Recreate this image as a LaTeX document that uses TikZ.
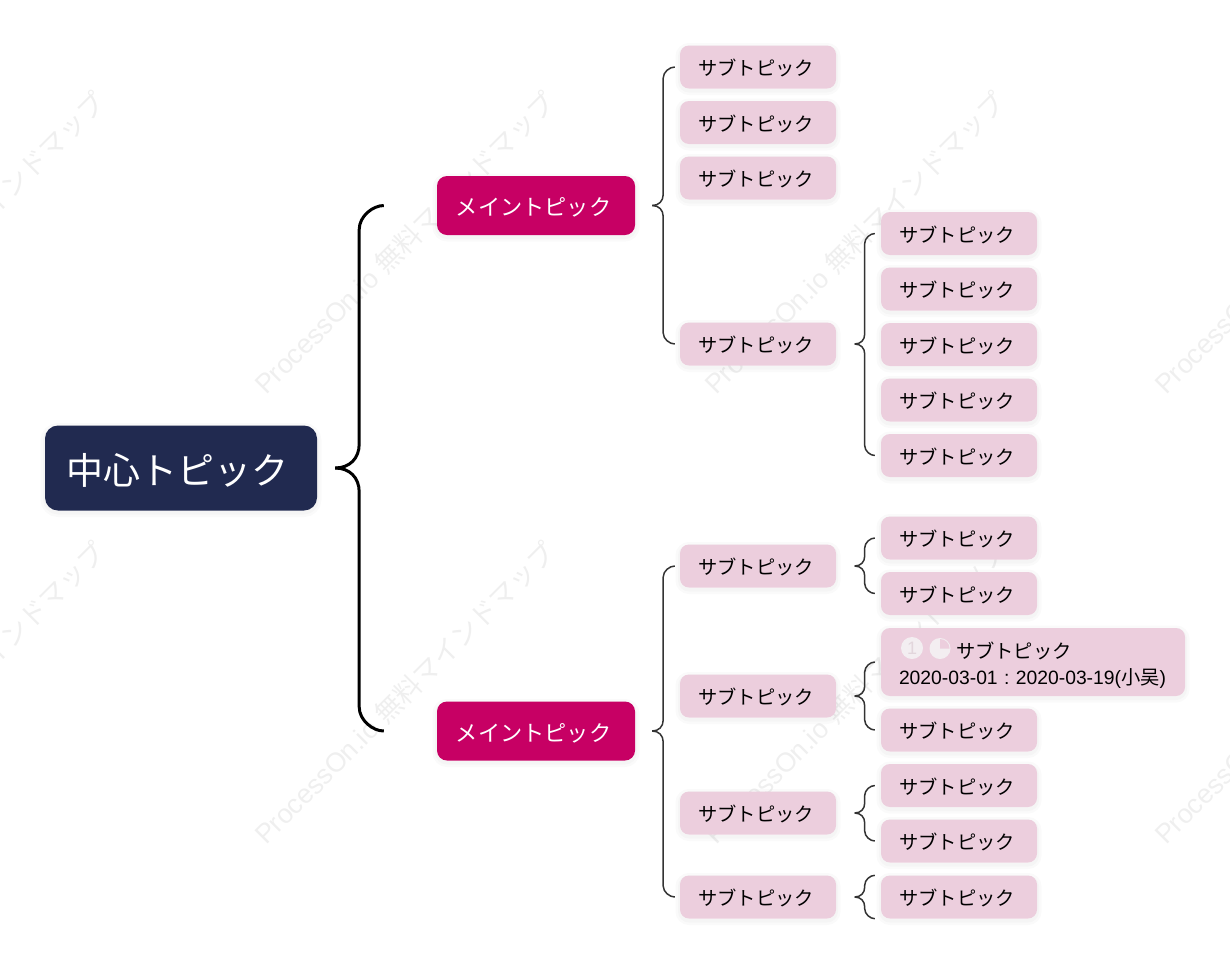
\documentclass[tikz,border=0pt]{standalone}
\usepackage{fontspec}
\setmainfont{Liberation Sans}
\newfontfamily\cjk{Noto Sans CJK JP}
\usetikzlibrary{calc}
\definecolor{centerblue}{HTML}{212A50}
\definecolor{mainpink}{HTML}{C70064}
\definecolor{subpink}{HTML}{ECCEDD}
\definecolor{iconwhite}{HTML}{F3EEF1}
\definecolor{icondigit}{HTML}{E2D6DC}
\definecolor{markgray}{HTML}{EFEFEF}
\definecolor{linkgray}{HTML}{333333}
\newcommand{\subtopic}{{\cjk サブトピック}}
% style, tip gap, bend, end gap, parent, target
\newcommand{\bracelink}[6]{%
    \draw[#1] let \p1=($(#5.east)+(#2,0)$), \p2=($(#6)-(#4,0)$),
        \n1={\x1+#3}, \n2={ifthenelse(\y2>\y1,1,-1)*#3}, \n3={\x2-(\x2-\n1)*.45} in
        (\p1) .. controls ({\x1+.6*#3},\y1) and (\n1,{\y1+.4*\n2}) .. (\n1,{\y1+\n2})
        -- (\n1,{\y2-\n2}) .. controls (\n1,{\y2-.45*\n2}) and (\n3,\y2) .. (\x2,\y2);}
\newcommand{\toplink}[2]{\bracelink{thicklink}{18}{24}{53}{#1}{#2}}
\newcommand{\midlink}[2]{\bracelink{thinlink}{17}{11}{5}{#1}{#2}}
\newcommand{\leaflink}[2]{\bracelink{thinlink}{18.5}{10}{6}{#1}{#2}}
\tikzset{
    softshadow/.style = {preaction={draw=black, draw opacity=.02, line width=9pt, transform canvas={yshift=-2pt}},
                         preaction={draw=black, draw opacity=.02, line width=4pt, transform canvas={yshift=-2pt}}},
    centerbox/.style  = {softshadow, fill=centerblue, text=white, rounded corners=13pt, minimum width=272pt,
                         minimum height=85pt, inner sep=0pt, text height=35pt, text depth=3pt,
                         font=\cjk\fontsize{37}{37}\selectfont},
    mainbox/.style    = {softshadow, fill=mainpink, text=white, rounded corners=10pt, minimum width=198pt,
                         minimum height=59pt, inner sep=0pt, text height=22pt, text depth=1.3pt,
                         font=\cjk\fontsize{22.2}{24}\selectfont},
    subbase/.style    = {softshadow, fill=subpink, text=black, rounded corners=9pt, minimum width=156pt,
                         minimum height=43pt, inner sep=0pt, font=\fontsize{19.3}{24}\selectfont},
    subbox/.style     = {subbase, text height=18pt, text depth=.6pt},
    thicklink/.style  = {black, line width=3pt},
    thinlink/.style   = {linkgray, line width=1.5pt},
    markstyle/.style  = {markgray, rotate=45, anchor=base west, inner sep=0pt,
                         font=\fontsize{27}{28}\selectfont},
}
\begin{document}
\begin{tikzpicture}[x=1pt, y=1pt]
\useasboundingbox (0,0) rectangle (1230,-978);
% watermark
\foreach \mx in {-197,253,703,1153}
    \foreach \my in {-396,-846}
        \node[markstyle] (mark\mx\my) at (\mx+13,\my) {ProcessOn.io {\cjk 無料マインドマップ}};
% topics
\node[centerbox] (center) at (181,-468) {中心トピック\kern7pt};
\node[mainbox] (main1) at (536,-205.5) {メイントピック\kern5pt};
\node[mainbox] (main2) at (536,-731) {メイントピック\kern5pt};
% first branch
\node[subbox] (a1) at (758,-67) {\subtopic\kern4pt};
\node[subbox] (a2) at (758,-122.5) {\subtopic\kern4pt};
\node[subbox] (a3) at (758,-178) {\subtopic\kern4pt};
\node[subbox] (a4) at (758,-344) {\subtopic\kern4pt};
\node[subbox] (a41) at (959,-233.5) {\subtopic\kern4pt};
\node[subbox] (a42) at (959,-289) {\subtopic\kern4pt};
\node[subbox] (a43) at (959,-344.5) {\subtopic\kern4pt};
\node[subbox] (a44) at (959,-400) {\subtopic\kern4pt};
\node[subbox] (a45) at (959,-455.5) {\subtopic\kern4pt};
% second branch
\node[subbox] (b1) at (758,-566) {\subtopic\kern4pt};
\node[subbox] (b2) at (758,-696) {\subtopic\kern4pt};
\node[subbox] (b3) at (758,-813) {\subtopic\kern4pt};
\node[subbox] (b4) at (758,-897) {\subtopic\kern4pt};
\node[subbox] (b11) at (959,-538) {\subtopic\kern4pt};
\node[subbox] (b12) at (959,-593.5) {\subtopic\kern4pt};
\node[subbase, minimum width=304pt, minimum height=68pt, align=left, text width=268pt] (b21) at (1033,-662)
    {\rule{0pt}{23pt}\hspace*{57pt}\subtopic\\[2pt]\mbox{\frenchspacing 2020-03-01 : 2020-03-19({\cjk 小吴})}};
\node[subbox] (b22) at (959,-730) {\subtopic\kern4pt};
\node[subbox] (b31) at (959,-785.5) {\subtopic\kern4pt};
\node[subbox] (b32) at (959,-841) {\subtopic\kern4pt};
\node[subbox] (b41) at (959,-897) {\subtopic\kern4pt};
% icons
\node[circle, fill=iconwhite, text=icondigit, minimum size=22pt, inner sep=0pt, font=\fontsize{18}{18}\selectfont] (prio) at (912,-648) {1};
\coordinate (pie) at (940,-648.5);
\fill[iconwhite] (pie) circle (10.5);
\fill[subpink] (pie) -- ++(0,9.5) arc (90:0:9.5) -- cycle;
% links
\toplink{center}{main1.west}
\toplink{center}{main2.west}
\midlink{main1}{a1.west}
\midlink{main1}{a4.west}
\leaflink{a4}{a41.west}
\leaflink{a4}{a45.west}
\midlink{main2}{b1.west}
\midlink{main2}{b4.west}
\leaflink{b1}{b11.west}
\leaflink{b1}{b12.west}
\leaflink{b2}{b21.west}
\leaflink{b2}{b22.west}
\leaflink{b3}{b31.west}
\leaflink{b3}{b32.west}
\leaflink{b4}{b41.north west}
\leaflink{b4}{b41.south west}
\end{tikzpicture}
\end{document}
